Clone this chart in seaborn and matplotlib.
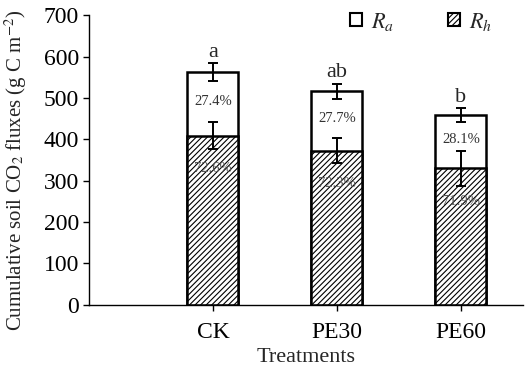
import pandas as pd
import matplotlib
matplotlib.use("Agg")
import matplotlib.pyplot as plt
from matplotlib.patches import Patch
import seaborn as sns

# Data
treatments = ['CK', 'PE30', 'PE60']
total_flux = [563, 516, 458]      # Ra + Rh (top of bar)
total_err = [21, 18, 17]
rh_flux = [409, 373, 330]          # heterotrophic respiration
rh_err = [32, 31, 42]
ra_pct = ['27.4%', '27.7%', '28.1%']
rh_pct = ['72.6%', '72.3%', '71.9%']
letters = ['a', 'ab', 'b']

df = pd.DataFrame({'Treatment': treatments, 'Total': total_flux, 'Rh': rh_flux})

sns.set_style('ticks')
plt.rcParams['font.family'] = ['Liberation Serif', 'DejaVu Serif']
plt.rcParams['mathtext.fontset'] = 'stix'
plt.rcParams['hatch.linewidth'] = 0.8

fig = plt.figure(figsize=(5.26, 3.70), dpi=100)
ax = fig.add_axes([0.169, 0.176, 0.825, 0.783])

# Total bar (Ra on top) then Rh bar drawn over it with hatching
sns.barplot(data=df, x='Treatment', y='Total', color='white', edgecolor='black',
            linewidth=1.8, width=0.41, ax=ax)
n = len(ax.patches)
sns.barplot(data=df, x='Treatment', y='Rh', color='white', edgecolor='black',
            linewidth=1.8, width=0.41, ax=ax)
rh_bars = ax.patches[n:]
for p in rh_bars:
    p.set_hatch('//////')

centers = [p.get_x() + p.get_width() / 2 for p in ax.patches[:n]]

ax.errorbar(centers, total_flux, yerr=total_err, fmt='none', ecolor='black',
            elinewidth=1.4, capsize=3.5, capthick=1.4)
ax.errorbar(centers, rh_flux, yerr=rh_err, fmt='none', ecolor='black',
            elinewidth=1.4, capsize=3.5, capthick=1.4)

for i, x in enumerate(centers):
    ax.text(x, total_flux[i] + total_err[i] + 4, letters[i], ha='center',
            va='bottom', fontsize=16)
    ax.text(x, (total_flux[i] + rh_flux[i]) / 2 + 5, ra_pct[i], ha='center',
            va='center', fontsize=10.5, color='#333333')
    ax.text(x, rh_flux[i] - 80, rh_pct[i], ha='center', va='center',
            fontsize=10.5, color='#555555')

ax.set_xlim(-1.0, 2.5)
ax.set_ylim(0, 700)
ax.set_yticks(range(0, 701, 100))
ax.set_xlabel('Treatments', fontsize=16, labelpad=4)
ax.set_ylabel('Cumulative soil CO$_2$ fluxes (g C m$^{-2}$)', fontsize=15)
ax.yaxis.set_label_coords(-0.138, 0.466)
ax.tick_params(axis='both', labelsize=17, direction='out', width=1, length=4,
               colors='black')
ax.tick_params(axis='x', pad=8)
ax.tick_params(axis='y', pad=3)
for side in ['top', 'right']:
    ax.spines[side].set_visible(False)
for side in ['left', 'bottom']:
    ax.spines[side].set_linewidth(1.0)
    ax.spines[side].set_color('black')

handles = [Patch(facecolor='white', edgecolor='black', linewidth=1.5, label='$R_a$'),
           Patch(facecolor='white', edgecolor='black', linewidth=1.5, hatch='//////',
                 label='$R_h$')]
ax.legend(handles=handles, loc='upper right', bbox_to_anchor=(0.975, 1.085), ncol=2,
          frameon=False, fontsize=16, handlelength=0.55, handleheight=0.55,
          handletextpad=0.4, columnspacing=2.4)

plt.savefig('out.png', dpi=100)
